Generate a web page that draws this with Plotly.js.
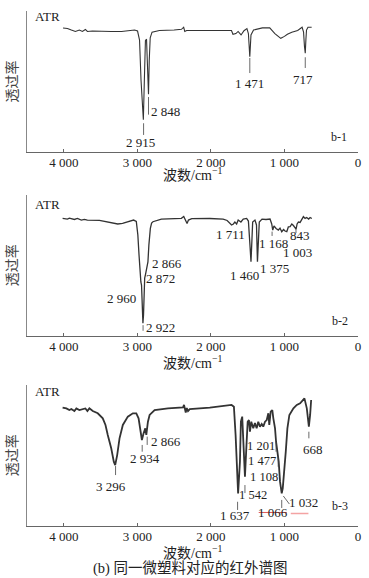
<!DOCTYPE html>
<html><head><meta charset="utf-8">
<script src="https://cdn.plot.ly/plotly-3.0.1.min.js"></script>
<style>html,body{margin:0;padding:0;background:#fff}#chart{width:369px;height:578px}</style>
</head><body><div id="chart"></div>
<script>
// ---- data (wavenumber cm^-1, relative transmittance) ----
const wn1 = [4010,3950,3897,3842,3788,3747,3706,3679,3611,3515,3352,3215,3106,3038,2997,2970,2950,2930,2918,2905,2890,2875,2860,2848,2838,2825,2800,2700,2500,2400,2370,2355,2330,2200,2000,1800,1720,1700,1660,1630,1590,1550,1510,1490,1471,1455,1420,1300,1200,1130,1050,1000,960,900,820,760,740,728,717,708,700,680,630];
const t1 = [87.9,87.6,86.5,85.5,86.5,85.5,86.9,85.5,85.8,85.5,85.5,85.5,85.8,86.5,85.8,79.4,51,30,22.9,50,79,80,62,41,65,81,85,86.2,86.5,87,88.5,85.5,86.2,86.2,86.5,86.5,86.2,83.5,84,85.5,83,86,87.5,84,67.5,83,86.5,88,88,84,80.6,82,83.5,85,86.2,88.5,85,75,70,80,86.5,88.5,88.5];

const wn2 = [4016,3951,3924,3856,3815,3761,3720,3679,3515,3406,3324,3266,3201,3147,3092,3051,3014,2993,2977,2963,2952,2943,2932,2924,2916,2909,2900,2888,2874,2856,2843,2823,2806,2788,2673,2533,2401,2369,2349,2324,2305,2260,2015,1833,1779,1719,1694,1674,1650,1629,1592,1560,1514,1490,1469,1455,1442,1432,1401,1380,1367,1353,1342,1305,1251,1196,1173,1159,1142,1114,1083,1060,1037,1012,992,968,947,923,900,878,842,828,810,787,764,742,719,698,671,651,627];
const t2 = [83.4,82.9,83.6,82.6,83.3,82.2,82.7,82.2,81.9,80.6,79.7,79.4,79.9,80.8,81.9,82.2,81.2,71.6,57.4,43.1,38.2,36,18.2,8.8,14.7,31,41,43.8,48.1,52.4,64.5,76.3,80.1,81,82.9,83.3,83.4,84.7,82.6,79.7,82.2,83.2,83.3,82.9,81.9,78.7,79.4,80.8,79.4,82.2,80.8,82.9,83.4,81.5,64.5,52.6,68,80.8,82.2,78.7,52.6,71.6,80.8,82.9,82.6,82.9,79.4,75.1,78,76.2,75.1,76.5,73.9,75.5,74.4,73.9,77.3,77.5,79.4,78.3,75.8,79.4,80.8,80.5,82.2,84.6,83.4,84,82.9,84,83.3];

const wn3 = [4016,3965,3924,3897,3856,3829,3788,3747,3706,3679,3652,3606,3538,3470,3433,3402,3355,3320,3301,3274,3242,3197,3129,3061,3014,2983,2956,2938,2915,2892,2878,2856,2833,2765,2583,2379,2365,2352,2342,2328,2311,2287,2015,1719,1687,1664,1642,1630,1605,1592,1574,1560,1537,1514,1500,1483,1469,1451,1424,1401,1378,1356,1333,1309,1288,1264,1241,1219,1206,1187,1165,1151,1128,1114,1097,1078,1060,1037,1023,1005,982,960,933,878,832,787,742,728,696,668,651,637];
const t3 = [83.9,83.4,82.2,82.9,81.5,83.4,82.2,82.9,83.3,81.5,83.4,81.5,79.9,76.3,71.6,64.5,55,45.5,43.1,50.2,62.1,71.6,77.5,79.9,79.9,76.3,66.8,60.9,65.7,69.2,64.5,73.9,78.7,82.2,83.4,84.1,85.8,82.2,80.5,83.6,81.5,82.9,83.9,85.8,84.6,64.5,36,23,45.5,73.9,77.5,64.5,34.8,59.7,73.9,75.1,66.8,73.9,69.2,73,69.2,73.9,70.4,72.3,70.4,73.9,75.1,79.9,71.6,81,82.2,76.3,69.2,59.7,52.6,45.5,31.3,23,26.6,36,52.6,69.2,78.7,83.4,85.8,87,89.3,90.5,83.4,70.4,78.7,89.3];

const tickVals = [4000, 3000, 2000, 1000, 0];
const tickText = ['4 000', '3 000', '2 000', '1 000', '0'];
const panelTags = ['b-1', 'b-2', 'b-3'];
const modeLabel = 'ATR';
const xTitle = '波数/cm<sup>−1</sup>';
const yTitle = '透过率';
const caption = '(b) 同一微塑料对应的红外谱图';

// ---- traces ----
const lineCol = '#333';
const traces = [
  {x: wn1, y: t1, xaxis: 'x', yaxis: 'y', type: 'scatter', mode: 'lines', line: {color: lineCol, width: 1.1}, hoverinfo: 'skip'},
  {x: wn2, y: t2, xaxis: 'x2', yaxis: 'y2', type: 'scatter', mode: 'lines', line: {color: lineCol, width: 1.3}, hoverinfo: 'skip'},
  {x: wn3, y: t3, xaxis: 'x3', yaxis: 'y3', type: 'scatter', mode: 'lines', line: {color: lineCol, width: 1.8}, hoverinfo: 'skip'}
];

// ---- styling / layout ----
const serif = 'Liberation Serif, Noto Sans CJK SC, serif';
const txtFont = {family: serif, size: 13, color: '#222'};

function xAxis(anchor) {
  return {
    anchor: anchor, domain: [0, 1], range: [4500, 0],
    showline: true, linecolor: '#666', linewidth: 1.2,
    ticks: 'inside', ticklen: 3, tickcolor: '#666', tickwidth: 1,
    tickvals: tickVals, ticktext: tickText, ticklabelstandoff: -2,
    tickfont: {family: serif, size: 13, color: '#222'},
    showgrid: false, zeroline: false, fixedrange: true
  };
}
function yAxis(anchor, dom) {
  return {
    anchor: anchor, domain: dom, range: [0, 100],
    showline: true, linecolor: '#888', linewidth: 1.4,
    showticklabels: false, ticks: '', showgrid: false, zeroline: false, fixedrange: true,
    title: {text: yTitle, font: {family: 'Noto Sans CJK SC', size: 14, color: '#444'}, standoff: 4}
  };
}

const ann = [];
const shapes = [];
function lab(p, text, x, y, extra) {
  const s = p === 1 ? '' : String(p);
  ann.push(Object.assign({xref: 'x' + s, yref: 'y' + s, x: x, y: y, text: text, showarrow: false,
    font: txtFont, xanchor: 'center', yanchor: 'middle'}, extra || {}));
}
function lead(p, x0, y0, x1, y1, col, w) {
  const s = p === 1 ? '' : String(p);
  shapes.push({type: 'line', xref: 'x' + s, yref: 'y' + s, x0: x0, y0: y0, x1: x1, y1: y1,
    line: {color: col || '#444', width: w || 0.8}});
}
const small = {font: {family: serif, size: 12.5, color: '#222'}};
const tagFont = {font: {family: serif, size: 12, color: '#222'}};

// panel 1
lab(1, modeLabel, 4224, 96);
lab(1, '2 915', 2960, 6.6); lead(1, 2915, 20.4, 2915, 12.1);
lab(1, '2 848', 2848, 28.6, {xanchor: 'left'}); lead(1, 2848, 39, 2848, 26.5);
lab(1, '1 471', 1469, 48.9); lead(1, 1471, 66.7, 1471, 56);
lab(1, '717', 750, 51.3); lead(1, 717, 67.2, 717, 59.6);
lab(1, panelTags[0], 255, 10.4, tagFont);

// panel 2
lab(2, modeLabel, 4224, 92.9);
lab(2, '1 711', 1731, 71.6);
lab(2, '1 168', 1151, 65.7); lead(2, 1168, 74, 1168, 70.9);
lab(2, '843', 786, 70.9); lead(2, 843, 76, 843, 73);
lab(2, '1 003', 821, 59);
lab(2, '1 460', 1541, 43.1);
lab(2, '1 375', 1139, 47.9);
lab(2, '2 866', 2592, 51);
lab(2, '2 872', 2679, 40.8);
lab(2, '2 960', 3212, 26.6);
lab(2, '2 922', 2683, 6.0); lead(2, 2922, 7.5, 2922, 3.5);
lab(2, panelTags[1], 242, 10.4, tagFont);

// panel 3
lab(3, modeLabel, 4224, 95.2);
lab(3, '3 296', 3361, 27.7); lead(3, 3296, 42.4, 3296, 36);
lab(3, '2 934', 2901, 47.9); lead(3, 2934, 57.4, 2934, 52.6);
lab(3, '2 866', 2605, 59.7); lead(3, 2866, 63.3, 2866, 57.4);
lab(3, '1 201', 1316, 56.6, small); lead(3, 1114, 59.7, 1114, 52.6);
lab(3, '1 477', 1309, 46.3, small); lead(3, 1085, 49, 1085, 41.9);
lab(3, '1 108', 1275, 34.8, small);
lab(3, '1 542', 1428, 21.8, small); lead(3, 1537, 28.9, 1537, 23.2);
lab(3, '1 637', 1678, 6.9); lead(3, 1637, 17, 1637, 11.2);
lab(3, '1 066', 1162, 9.2); lead(3, 1037, 18.3, 1037, 12.6);
lab(3, '1 032', 746, 16.3); lead(3, 1015, 21.1, 933, 15.4);
lab(3, '668', 606, 54.5); lead(3, 668, 66.8, 668, 62.1);
lab(3, panelTags[2], 242, 14, tagFont);
lead(3, 1350, 9.4, 968, 9.4, '#e05a5a', 1);
lead(3, 914, 8.7, 674, 8.7, '#f4a3a3', 1.5);

// x-axis titles (one per panel) and caption, in paper coordinates
const xTitleY = [0.6995, 0.3730, 0.0445];
xTitleY.forEach(function (yy) {
  ann.push({xref: 'paper', yref: 'paper', x: 0.5, y: yy, text: xTitle, showarrow: false,
    font: {family: serif, size: 14, color: '#222'}, xanchor: 'center', yanchor: 'middle'});
});
ann.push({xref: 'paper', yref: 'paper', x: 0.495, y: 0.0168, text: caption, showarrow: false,
  font: {family: serif, size: 14.5, color: '#222'}, xanchor: 'center', yanchor: 'middle'});

const layout = {
  width: 369, height: 578,
  margin: {l: 27, r: 11, t: 0, b: 0},
  paper_bgcolor: '#fff', plot_bgcolor: '#fff',
  showlegend: false,
  xaxis: xAxis('y'), yaxis: yAxis('x', [0.73702, 0.98097]),
  xaxis2: xAxis('y2'), yaxis2: yAxis('x2', [0.41920, 0.66263]),
  xaxis3: xAxis('y3'), yaxis3: yAxis('x3', [0.09048, 0.33391]),
  annotations: ann, shapes: shapes
};

Plotly.newPlot('chart', traces, layout, {staticPlot: true, displayModeBar: false});
</script></body></html>
